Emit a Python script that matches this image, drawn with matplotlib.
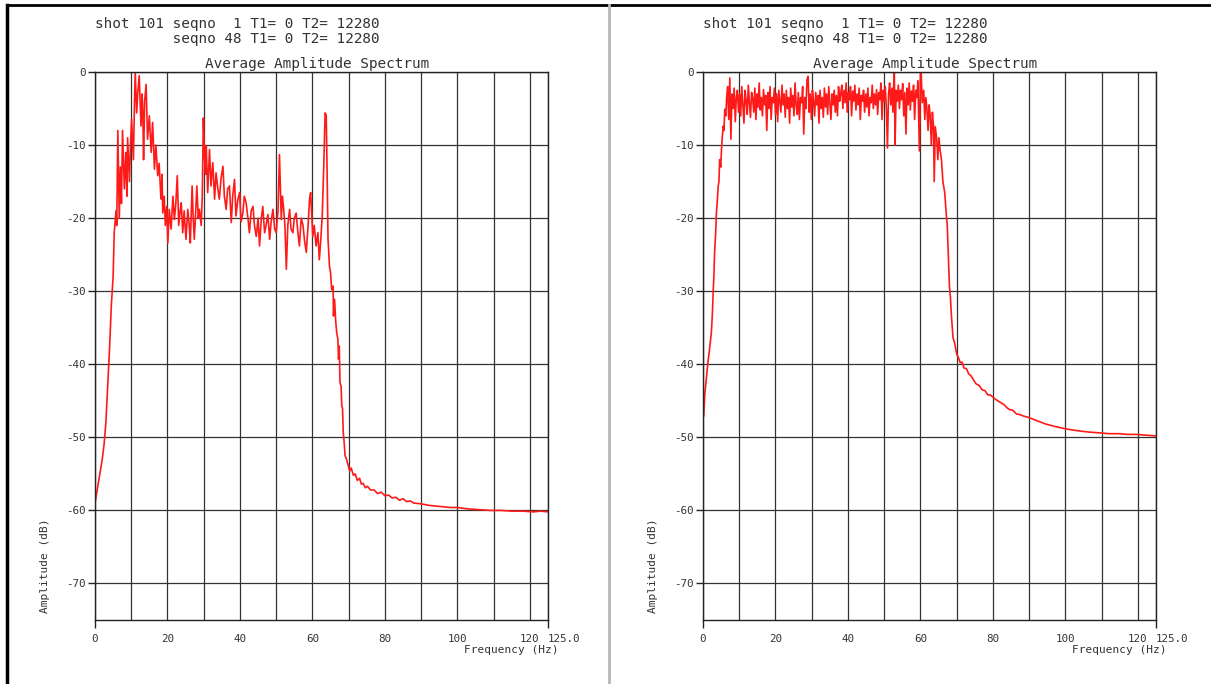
import numpy as np
import matplotlib
matplotlib.use("Agg")
import matplotlib.pyplot as plt
from matplotlib.lines import Line2D
from matplotlib.ticker import FixedLocator, FixedFormatter

# Spectre de gauche (Hz, dB)
freq_left = [0, 0.5, 1.0, 1.5, 2.0, 2.5, 3.0, 3.5, 4.0, 4.5, 5.0, 5.3, 5.8, 6.0, 6.3, 6.7,
             7.0, 7.3, 7.6, 8.1, 8.5, 8.8, 9.0, 9.5, 9.8, 10.1, 10.6, 10.9, 11.1, 11.5, 11.8,
             12.2, 12.7, 13.0, 13.2, 13.4, 13.7, 14.1, 14.5, 15.0, 15.5, 15.9, 16.4, 16.8,
             17.3, 17.7, 18.2, 18.5, 18.7, 19.1, 19.4, 19.8, 20.1, 20.5, 21.0, 21.5, 21.9,
             22.3, 22.7, 23.1, 23.5, 23.8, 24.2, 24.6, 25.1, 25.6, 26.0, 26.3, 26.8, 27.1,
             27.4, 27.8, 28.1, 28.5, 28.8, 29.3, 29.6, 29.9, 30.2, 30.5, 30.7, 31.1, 31.6,
             32.0, 32.5, 33.0, 33.4, 33.9, 34.3, 34.8, 35.3, 35.7, 36.2, 36.6, 37.1, 37.6,
             38.0, 38.5, 38.9, 39.4, 39.9, 40.3, 40.8, 41.2, 41.7, 42.2, 42.6, 43.1, 43.6,
             44.0, 44.5, 45.0, 45.4, 45.9, 46.3, 46.8, 47.2, 47.7, 48.2, 48.6, 49.1, 49.6,
             50.0, 50.5, 50.9, 51.4, 51.7, 52.0, 52.4, 52.8, 53.2, 53.7, 54.1, 54.6, 55.0,
             55.5, 56.0, 56.4, 56.9, 57.4, 57.8, 58.3, 58.8, 59.2, 59.5, 60.1, 60.5, 61.0,
             61.5, 61.9, 62.3, 62.7, 63.1, 63.5, 63.8, 64.0, 64.3, 64.7, 65.0, 65.3, 65.7,
             65.8, 66.1, 66.4, 66.7, 67.0, 67.2, 67.4, 67.6, 67.9, 68.1, 68.3, 68.5, 68.8,
             69.0, 69.4, 69.9, 70.3, 70.7, 71.3, 71.8, 72.4, 73.0, 73.5, 74.0, 74.6, 75.2,
             76, 77, 78, 79, 80, 81, 82, 83, 84, 85, 86, 87, 88, 90, 92, 94, 96, 98, 100,
             103, 106, 109, 112, 115, 118, 121, 123, 125]
amp_left = [-59, -57.5, -56, -54.5, -53, -51, -48, -43, -38, -32, -28, -22, -19, -21, -8, -20,
            -13, -18, -8, -16, -11, -17, -9, -15, -10, -6.5, -12, -4, 0, -5.6, -2.8,
            -0.5, -7.4, -3, -5.6, -12, -4, -1.7, -9.2, -6, -11, -6.9, -13.3, -10,
            -14.2, -12.5, -17.4, -14, -19.3, -17, -21, -18.4, -23.4, -18.8, -21.5, -17, -20.2,
            -18, -14.2, -21, -19, -17.9, -22, -19, -22.9, -18.8, -21, -23.4, -15.6, -20,
            -22.9, -19, -15.6, -20, -18.8, -21, -17, -6.3, -11.5, -14, -10.1, -16.5, -10.6,
            -15.6, -12.4, -17.4, -13.8, -16, -17.4, -14.5, -12.9, -17, -18.8, -16, -15.6, -20.6,
            -17, -14.7, -19.7, -17.5, -16.5, -20.5, -19.3, -17, -17.9, -20, -22, -19, -18.4,
            -21, -22.5, -20, -23.8, -20, -18.4, -22, -21, -19.5, -22.9, -20.5, -18.8, -21.5,
            -22, -19, -11.3, -20.2, -17, -18.4, -21, -27, -21, -18.8, -21.5, -22, -20,
            -19.3, -22, -23.8, -20, -21, -23, -24.7, -21, -17.4, -16.5, -22.5, -21, -23.8,
            -22, -25.7, -23, -19.7, -13.3, -5.6, -5.9, -12, -22.9, -26.6, -27.5, -29.8, -29.3,
            -33.4, -31.1, -34, -35.7, -36.5, -39.3, -37.5, -42.5, -43, -45.7, -46, -49.3, -51,
            -52.5, -53, -53.9, -54.6, -54.2, -55.2, -55, -55.9, -55.6, -56.4, -56.3, -56.9, -56.7,
            -57.2, -57.2, -57.7, -57.5, -58.0, -57.9, -58.3, -58.2, -58.6, -58.4, -58.8, -58.7,
            -59.0, -59.1, -59.3, -59.4, -59.5, -59.6, -59.6, -59.8, -59.9, -60.0, -60.0, -60.1,
            -60.1, -60.2, -60.1, -60.2]

# Spectre de droite
freq_right = [0, 0.2, 0.5, 0.9, 1.3, 1.7, 2.0, 2.3, 2.6, 2.8, 3.0, 3.2, 3.5, 3.7, 3.9, 4.2,
              4.4, 4.6, 4.9, 5.1, 5.3, 5.6, 5.8, 6.0, 6.3, 6.5,
              6.8, 7.1, 7.4, 7.7, 8.0, 8.3, 8.6, 8.9, 9.2, 9.5, 9.8, 10.1, 10.4, 10.7, 11.0,
              11.3, 11.6, 11.9, 12.2, 12.5, 12.8, 13.1, 13.4, 13.7, 14.0, 14.3, 14.6, 14.9,
              15.2, 15.5, 15.8, 16.1, 16.4, 16.7, 17.0, 17.3, 17.6, 17.9, 18.2, 18.5, 18.8,
              19.1, 19.4, 19.7, 20.0, 20.3, 20.6, 20.9, 21.2, 21.5, 21.8, 22.1, 22.4, 22.7,
              23.0, 23.3, 23.6, 23.9, 24.2, 24.5, 24.8, 25.1, 25.4, 25.7, 26.0, 26.3, 26.6,
              26.9, 27.2, 27.5, 27.8, 28.1, 28.4, 28.7, 29.0, 29.3, 29.6, 29.9, 30.2, 30.5,
              30.8, 31.1, 31.4, 31.7, 32.0, 32.3, 32.6, 32.9, 33.2, 33.5, 33.8, 34.1, 34.4,
              34.7, 35.0, 35.3, 35.6, 35.9, 36.2, 36.5, 36.8, 37.1, 37.4, 37.7, 38.0, 38.3,
              38.6, 38.9, 39.2, 39.5, 39.8, 40.1, 40.4, 40.7, 41.0, 41.3, 41.6, 41.9, 42.2,
              42.5, 42.8, 43.1, 43.4, 43.7, 44.0, 44.3, 44.6, 44.9, 45.2, 45.5, 45.8, 46.1,
              46.4, 46.7, 47.0, 47.3, 47.6, 47.9, 48.2, 48.5, 48.8, 49.1, 49.4, 49.7, 50.0,
              50.3, 50.6, 50.9, 51.2, 51.5, 51.8, 52.1, 52.4, 52.7, 52.8, 53.0, 53.3, 53.6,
              53.9, 54.2, 54.5, 54.8, 55.1, 55.4, 55.7, 56.0, 56.3, 56.6, 56.9, 57.2, 57.5,
              57.8, 58.1, 58.4, 58.7, 59.0, 59.3, 59.7, 60.0, 60.2, 60.5, 60.9, 61.2, 61.5,
              61.8, 62.1, 62.4, 62.7, 63.0, 63.3, 63.6, 63.8, 64.1, 64.5, 64.8, 65.1, 65.4,
              65.8, 66.2, 66.7, 67.1, 67.4, 67.6, 68.0, 68.3, 68.5, 69.0, 69.4, 70.0, 70.4,
              71.0, 71.5, 72.0, 72.7, 73.3, 74.0, 74.7, 75.4, 76.2, 77.0, 77.8, 78.6, 79.3,
              80, 81, 82, 83, 84, 84.6, 85.5, 86.5, 87.5, 88.5, 90, 92, 94.7, 97, 99.7, 102,
              105, 107, 109.8, 112, 115, 117, 119.7, 122, 125]
amp_right = [-47, -47.1, -44, -42.1, -40, -38.4, -37, -35.7, -33, -30.2, -28, -24.7, -22, -19.3,
             -18, -15.6, -15, -12, -13, -10.6, -9, -7.4, -8, -5.1, -6, -3.7,
             -2.0, -6.5, -0.8, -9.2, -3.0, -5.0, -2.2, -6.8, -3.5, -2.5, -5.5, -3.0, -6.0,
             -2.0, -4.5, -7.0, -2.5, -4.0, -5.8, -1.8, -4.2, -6.2, -2.8, -3.6, -5.5, -2.2,
             -6.5, -3.0, -4.8, -1.5, -5.2, -3.5, -6.0, -2.4, -4.5, -3.2, -8.0, -2.8, -5.0,
             -2.0, -6.5, -3.5, -4.2, -2.2, -5.8, -3.0, -6.8, -2.5, -4.0, -5.5, -1.8, -4.5,
             -3.0, -6.2, -2.5, -5.0, -3.5, -7.0, -2.2, -4.8, -3.2, -6.0, -1.5, -4.5, -5.8,
             -2.8, -6.5, -3.5, -4.2, -2.0, -8.5, -3.5, -5.0, -1.0, -0.6, -5.5, -3.0, -6.5,
             -2.5, -4.0, -6.0, -2.8, -4.5, -3.2, -7.0, -2.5, -5.0, -3.5, -6.2, -2.2, -4.8,
             -3.0, -5.8, -2.0, -4.2, -6.5, -3.0, -4.5, -2.5, -5.5, -3.2, -6.0, -2.0, -4.0,
             -3.0, -1.8, -5.0, -2.5, -4.2, -1.5, -5.5, -2.8, -3.8, -2.0, -6.0, -2.6, -4.0,
             -1.8, -5.2, -3.0, -4.5, -2.2, -6.5, -3.2, -4.0, -2.5, -5.5, -3.0, -4.8, -2.2,
             -6.0, -3.5, -4.2, -1.8, -5.0, -3.0, -4.5, -2.4, -5.8, -2.8, -3.8, -1.5, -6.5,
             -2.5, -4.0, -2.0, -5.0, -10.4, -3.0, -1.5, -4.5, -2.2, -5.5, -0.5, 0.0, -10.0,
             -2.5, -4.0, -1.8, -5.0, -2.5, -3.8, -1.6, -6.0, -2.8, -8.5, -2.2, -4.5, -1.5,
             -5.2, -2.6, -4.0, -1.8, -6.5, -2.5, -3.5, -1.2, -10.8, -0.2, 0.0, -4.2, -2.5,
             -6.5, -3.5, -5.1, -8.0, -4.5, -6.0, -10.0, -5.5, -7.4, -15, -7.5, -9.2, -12,
             -9.0, -10.6, -12, -15, -16.5, -19.3, -21, -23.8, -29.3, -31, -33, -36.4, -37,
             -38.6, -39, -39.8, -39.7, -40.5, -40.6, -41.3, -41.6, -42.2, -42.7, -42.9, -43.5,
             -43.6, -44.2, -44.2, -44.5, -44.9, -45.2, -45.5, -46.0, -46.2, -46.3, -46.8,
             -46.9, -47.1, -47.3, -47.7, -48.2, -48.5, -48.8, -49.0, -49.2, -49.3, -49.4,
             -49.5, -49.5, -49.6, -49.6, -49.7, -49.8]

header = "shot 101 seqno  1 T1= 0 T2= 12280\n         seqno 48 T1= 0 T2= 12280"
titre = "Average Amplitude Spectrum"
y_ticks = [0, -10, -20, -30, -40, -50, -60, -70]

W, H = 1211, 684
fig = plt.figure(figsize=(W / 100, H / 100), dpi=100)
fig.patch.set_facecolor("white")
mono = "DejaVu Sans Mono"
txt_col = "#333333"

def panneau(left_px, freq, amp):
    ax = fig.add_axes([left_px / W, 1 - 620 / H, 453 / W, 548 / H])
    ax.plot(freq, amp, color="#ff1a1a", lw=1.2)
    ax.set_xlim(0, 125)
    ax.set_ylim(-75, 0)
    ax.xaxis.set_major_locator(FixedLocator([0, 125]))
    ax.xaxis.set_major_formatter(FixedFormatter(["0", "125.0"]))
    ax.xaxis.set_minor_locator(FixedLocator(list(range(10, 121, 10))))
    ax.xaxis.set_minor_formatter(FixedFormatter(
        ["", "20", "", "40", "", "60", "", "80", "", "100", "", "120"]))
    ax.set_yticks(y_ticks)
    ax.set_yticklabels([str(v) for v in y_ticks])
    ax.tick_params(axis="x", which="major", length=6, width=1, color="#222", pad=4,
                   labelsize=7.8, labelcolor=txt_col)
    ax.tick_params(axis="x", which="minor", length=0, pad=10, labelsize=7.8, labelcolor=txt_col)
    ax.tick_params(axis="y", length=5, width=1, color="#222", pad=2, labelsize=7.8,
                   labelcolor=txt_col)
    for lab in ax.get_xticklabels(minor=True) + ax.get_xticklabels() + ax.get_yticklabels():
        lab.set_fontfamily(mono)
    # "125.0" colle a droite de "120" comme sur l'original
    ax.get_xticklabels()[1].set_horizontalalignment("left")
    ax.grid(True, which="both", color="#333333", lw=0.9)
    ax.set_axisbelow(True)
    for s in ax.spines.values():
        s.set_color("#222")
        s.set_linewidth(1)
    ax.set_title(titre, fontsize=10.4, family=mono, color=txt_col, pad=3, x=0.49)
    fig.text(left_px / W, 1 - 17 / H, header, fontsize=10.4, family=mono, color=txt_col,
             ha="left", va="top", linespacing=1.1)
    fig.text((left_px + 463) / W, 1 - 650 / H, "Frequency (Hz)", fontsize=8, family=mono,
             color=txt_col, ha="right", va="center")
    fig.text((left_px - 50) / W, 1 - 613 / H, "Amplitude (dB)", fontsize=8, family=mono,
             color=txt_col, rotation=90, ha="center", va="bottom")
    return ax

panneau(95, freq_left, amp_left)
panneau(703, freq_right, amp_right)

# cadres de la page
fig.add_artist(Line2D([7 / W, 7 / W], [0, 1 - 5 / H], color="black", lw=2.5))
fig.add_artist(Line2D([7 / W, 1], [1 - 5 / H, 1 - 5 / H], color="black", lw=2))
fig.add_artist(Line2D([609 / W, 609 / W], [0, 1 - 5 / H], color="#b8b8b8", lw=2))

fig.savefig("out.png", dpi=100)
